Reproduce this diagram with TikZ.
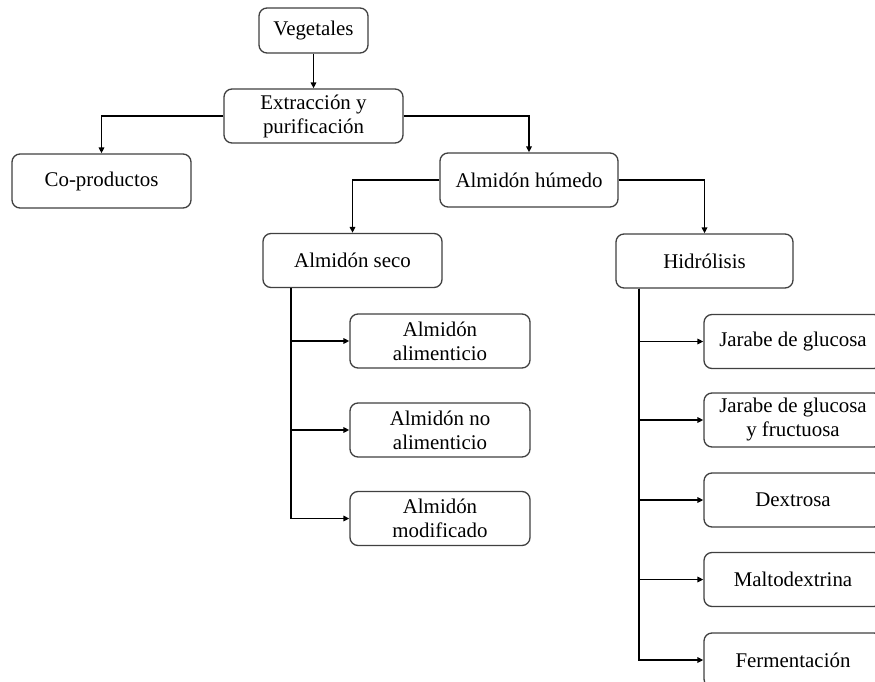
\documentclass[tikz,border=0pt]{standalone}
\usepackage{fontspec}
\setmainfont{Liberation Serif}
\usetikzlibrary{arrows.meta}
\begin{document}
\begin{tikzpicture}[x=1pt,y=-1pt,
  box/.style={draw=black!75, line width=1.3pt, rounded corners=8pt, fill=white,
    align=center, inner sep=0pt, minimum height=54pt,
    font=\fontsize{20.9}{24}\selectfont},
  wide/.style={box, minimum width=179pt},
  link/.style={draw=black, line width=1.8pt,
    -{Triangle[length=6pt,width=5.5pt]}}]
\useasboundingbox (0,0) rectangle (875,682);
\clip (0,0) rectangle (875,682);

% top of the tree
\node[box, minimum width=109pt, minimum height=45pt] (veg) at (313.5,30.5) {Vegetales};
\node[wide] (ext) at (313.5,116) {Extracción y\\purificación};
\node[wide] (cop) at (101.5,181) {Co-productos};
\node[box, minimum width=178pt] (hum) at (529,180) {Almidón húmedo};

% second level
\node[wide] (seco) at (352.5,260.5) {Almidón seco};
\node[box, minimum width=177pt] (hid) at (704.5,261) {Hidrólisis};

% dry starch products
\node[box, minimum width=180pt] (alim) at (440,341) {Almidón\\alimenticio};
\node[box, minimum width=180pt] (noal) at (440,430) {Almidón no\\alimenticio};
\node[box, minimum width=180pt] (mod)  at (440,518.5) {Almidón\\modificado};

% hydrolysis products
\node[box, minimum width=178pt] (jg)  at (793,341.5) {Jarabe de glucosa};
\node[box, minimum width=178pt] (jgf) at (793,420) {Jarabe de glucosa\\y fructuosa};
\node[box, minimum width=178pt] (dex) at (793,500) {Dextrosa};
\node[box, minimum width=178pt] (mal) at (793,579.5) {Maltodextrina};
\node[box, minimum width=178pt] (fer) at (793,660) {Fermentación};

% connectors
\draw[link] (veg.south) -- (ext.north);
\draw[link] (ext.west) -| (cop.north);
\draw[link] (ext.east) -| (hum.north);
\draw[link] (hum.west) -| (seco.north);
\draw[link] (hum.east) -| (hid.north);

\coordinate (st) at ([xshift=29pt]seco.south west);
\draw[link] (st) |- (alim.west);
\draw[link] (st) |- (noal.west);
\draw[link] (st) |- (mod.west);

\coordinate (ht) at ([xshift=24pt]hid.south west);
\draw[link] (ht) |- (jg.west);
\draw[link] (ht) |- (jgf.west);
\draw[link] (ht) |- (dex.west);
\draw[link] (ht) |- (mal.west);
\draw[link] (ht) |- (fer.west);
\end{tikzpicture}
\end{document}
